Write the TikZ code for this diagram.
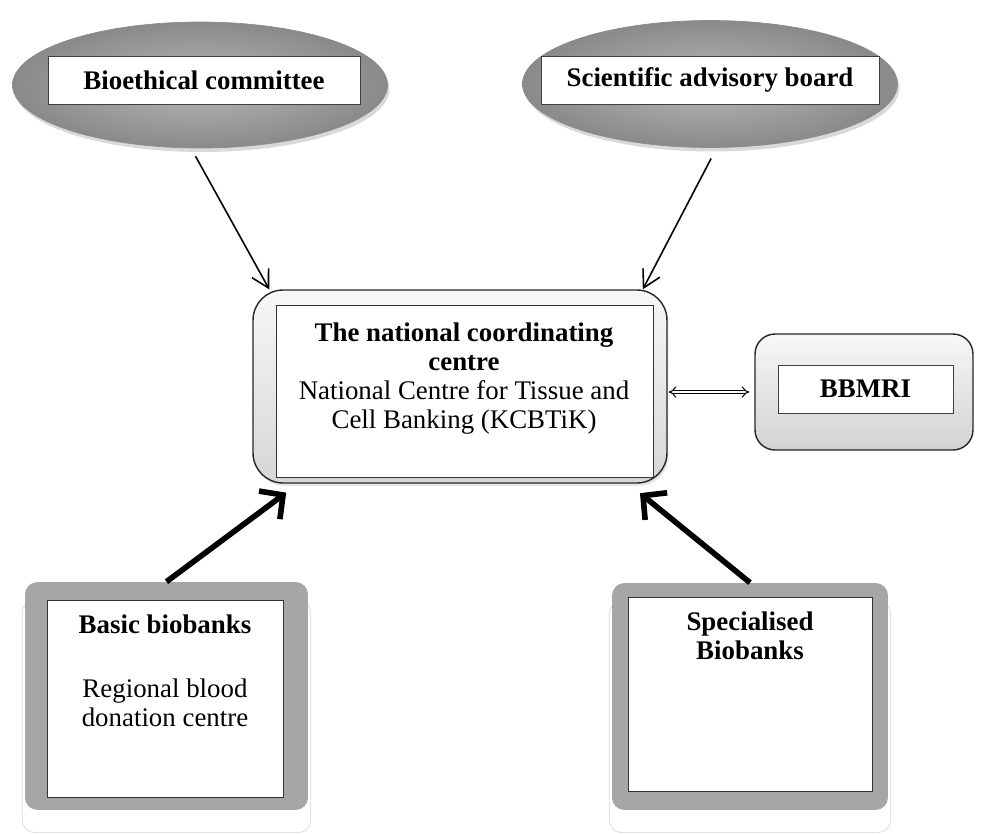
\documentclass[tikz,border=0pt]{standalone}
\usepackage{fontspec}
\setmainfont{Liberation Serif}
\usetikzlibrary{shapes.geometric, arrows.meta, shadows, calc}

\tikzset{
  oval/.style={ellipse, draw=black!45, inner color=black!28, outer color=black!46,
    drop shadow={opacity=0.3, shadow xshift=0.04cm, shadow yshift=-0.08cm}},
  tag/.style={rectangle, draw=black!75, fill=white, font=\bfseries\fontsize{15.3}{16.5}\selectfont},
  plain/.style={rectangle, draw=black!80, fill=white},
  hubbox/.style={rectangle, rounded corners=0.6cm, draw=black!85, thick, top color=gray!6, bottom color=gray!32,
    drop shadow={opacity=0.2, shadow xshift=0.03cm, shadow yshift=-0.06cm}},
  sidebox/.style={rectangle, rounded corners=0.4cm, draw=black!85, thick, top color=gray!6, bottom color=gray!35},
  bankbox/.style={rectangle, rounded corners=0.25cm, fill=black!35,
    drop shadow={fill=white, draw=gray!30, opacity=1, shadow xshift=0cm, shadow yshift=-0.4cm, shadow scale=1.02}},
  txt/.style={align=center, font=\fontsize{15.3}{16.5}\selectfont},
  thinarrow/.style={line width=0.9pt, -{Straight Barb[length=3.4mm, width=3.8mm]}},
  fatarrow/.style={line width=3.2pt, -{Straight Barb[length=3.4mm, width=7mm]}},
  dblarrow/.style={double, double distance=1.6pt, line width=0.6pt, {Implies}-{Implies}}
}

\begin{document}
\begin{tikzpicture}[x=0.02cm, y=-0.02cm]
  \useasboundingbox (0,0) rectangle (984,833);

  % top ovals
  \node[oval, minimum width=7.5cm, minimum height=2.52cm] (bio) at (200,85) {};
  \node[tag, minimum width=6.24cm, minimum height=0.96cm] (bio-t) at (204,80) {Bioethical committee};
  \node[oval, minimum width=7.5cm, minimum height=2.54cm] (sab) at (710,84) {};
  \node[tag, minimum width=6.76cm, minimum height=0.96cm] (sab-t) at (710,80) {Scientific advisory board};

  % coordinating centre
  \node[hubbox, minimum width=8.28cm, minimum height=3.86cm] (hub) at (460,386.5) {};
  \node[plain, minimum width=7.54cm, minimum height=3.44cm] (hub-t) at (464.5,391) {};
  \node[txt] (hub-l) at (464,379) {\textbf{The national coordinating}\\\textbf{centre}\\National Centre for Tissue and\\Cell Banking (KCBTiK)};

  \node[sidebox, minimum width=4.36cm, minimum height=2.32cm] (bbmri) at (864,392) {};
  \node[tag, minimum width=3.5cm, minimum height=0.96cm] (bbmri-t) at (865.5,389) {BBMRI};

  % biobanks
  \node[bankbox, minimum width=5.66cm, minimum height=4.56cm] (basic) at (166.5,696) {};
  \node[plain, minimum width=4.72cm, minimum height=3.94cm] (basic-t) at (165,698.5) {};
  \node[txt, font=\bfseries\fontsize{15.3}{16.5}\selectfont] (basic-l) at (165,624) {Basic biobanks};
  \node[txt] (basic-s) at (165,703) {Regional blood\\donation centre};

  \node[bankbox, minimum width=5.52cm, minimum height=4.54cm] (spec) at (750,696.5) {};
  \node[plain, minimum width=4.88cm, minimum height=3.88cm] (spec-t) at (750,694) {};
  \node[txt, font=\bfseries\fontsize{15.3}{16.5}\selectfont] (spec-l) at (750,636) {Specialised\\Biobanks};

  % connectors
  \draw[thinarrow, shorten <=0.18cm] (bio.262) -- (hub.153);
  \draw[thinarrow, shorten <=0.24cm] (sab.276) -- (hub.28);
  \draw[fatarrow, shorten >=0.3cm] (basic.north) -- (hub.211);
  \draw[fatarrow, shorten >=0.3cm] (spec.north) -- (hub.330);
  \draw[dblarrow, shorten <=0.02cm, shorten >=0.1cm] (bbmri.west -| hub.east) -- (bbmri.west);
\end{tikzpicture}
\end{document}
